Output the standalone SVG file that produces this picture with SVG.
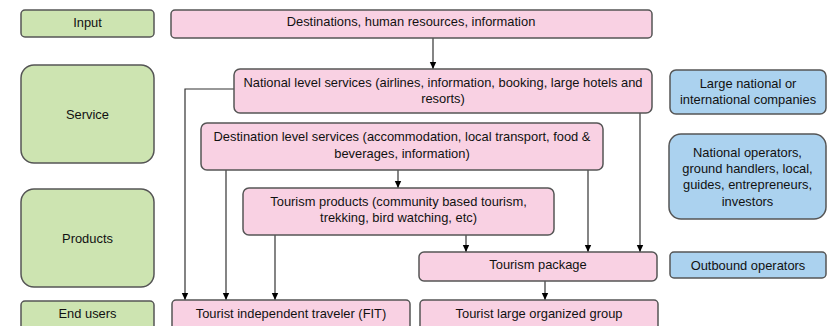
<svg xmlns="http://www.w3.org/2000/svg" width="827" height="326" viewBox="0 0 827 326">
<defs>
<marker id="ah" markerWidth="8" markerHeight="8" refX="7" refY="4" orient="auto" markerUnits="userSpaceOnUse">
<path d="M0,0.8 L7,4 L0,7.2 Z" fill="#000"/>
</marker>
<style>
.g{fill:#cde4b1;stroke:#555;stroke-width:1.5}
.p{fill:#f9d1e3;stroke:#555;stroke-width:1.5}
.b{fill:#abd2ef;stroke:#555;stroke-width:1.5}
text{font-family:"Liberation Sans",Arial,sans-serif;font-size:12.9px;fill:#111;text-anchor:middle}
.c{fill:none;stroke:#333;stroke-width:1.2}
.ca{fill:none;stroke:#333;stroke-width:1.2;marker-end:url(#ah)}
</style>
</defs>
<rect width="827" height="326" fill="#fff"/>
<g id="connectors">
<path class="ca" d="M433,38 V69"/>
<path class="ca" d="M235,89 H185 V300"/>
<path class="ca" d="M226,170 V300"/>
<path class="ca" d="M398,170 V188"/>
<path class="ca" d="M275,235 V300"/>
<path class="ca" d="M466,235 V252"/>
<path class="ca" d="M588,170 V252"/>
<path class="ca" d="M640,113 V252"/>
<path class="ca" d="M545,281 V300"/>
</g>
<g id="input"><rect class="g" x="21" y="10" width="133" height="27" rx="4"/><text x="87.5" y="27">Input</text></g>
<g id="service"><rect class="g" x="21" y="65" width="133" height="98" rx="13"/><text x="87.5" y="119">Service</text></g>
<g id="products"><rect class="g" x="21" y="189" width="133" height="98" rx="13"/><text x="87.5" y="243">Products</text></g>
<g id="endusers"><rect class="g" x="21" y="301" width="133" height="40" rx="4"/><text x="87.5" y="318">End users</text></g>
<g id="destinations"><rect class="p" x="171" y="10" width="481" height="28" rx="4"/><text x="411" y="26">Destinations, human resources, information</text></g>
<g id="national"><rect class="p" x="234" y="69" width="418" height="44" rx="6"/><text x="443" y="87">National level services (airlines, information, booking, large hotels and</text><text x="443" y="103">resorts)</text></g>
<g id="destlevel"><rect class="p" x="201" y="123" width="402" height="47" rx="6"/><text x="402" y="141">Destination level services (accommodation, local transport, food &amp;</text><text x="402" y="158">beverages, information)</text></g>
<g id="tproducts"><rect class="p" x="243" y="188" width="311" height="47" rx="6"/><text x="398.5" y="206">Tourism products (community based tourism,</text><text x="398.5" y="222">trekking, bird watching, etc)</text></g>
<g id="package"><rect class="p" x="419" y="252" width="238" height="29" rx="5"/><text x="538" y="269">Tourism package</text></g>
<g id="fit"><rect class="p" x="172" y="300" width="238" height="40" rx="4"/><text x="291" y="318">Tourist independent traveler (FIT)</text></g>
<g id="group"><rect class="p" x="420" y="300" width="238" height="40" rx="4"/><text x="539" y="318">Tourist large organized group</text></g>
<g id="largenational"><rect class="b" x="670" y="70" width="156" height="44" rx="6"/><text x="748" y="88">Large national or</text><text x="748" y="104">international companies</text></g>
<g id="natoperators"><rect class="b" x="669" y="134" width="157" height="85" rx="12"/><text x="747.5" y="157">National operators,</text><text x="747.5" y="173">ground handlers, local,</text><text x="747.5" y="189">guides, entrepreneurs,</text><text x="747.5" y="206">investors</text></g>
<g id="outbound"><rect class="b" x="670" y="252" width="156" height="26" rx="4"/><text x="748" y="270">Outbound operators</text></g>
</svg>
